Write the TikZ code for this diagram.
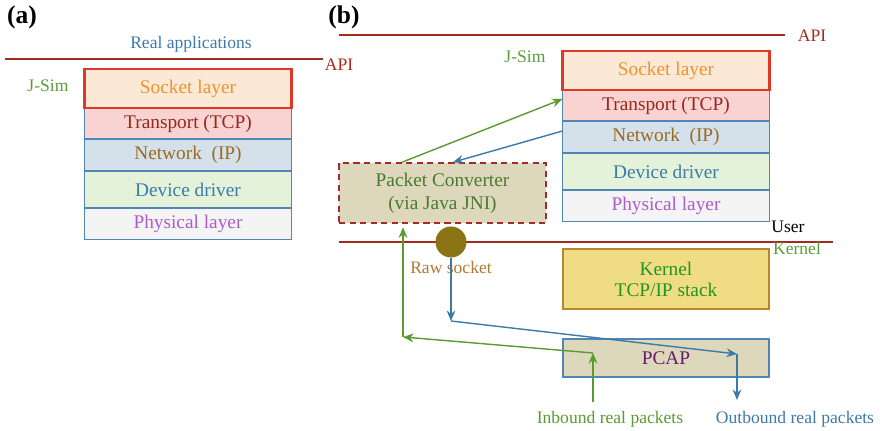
\documentclass[tikz,border=0pt]{standalone}
\usepackage{fontspec}
\setmainfont{Liberation Serif}
\usetikzlibrary{positioning, arrows.meta, calc}
\definecolor{apired}{RGB}{165, 42, 30}
\definecolor{layeredge}{RGB}{79, 134, 182}
\definecolor{socketedge}{RGB}{224, 56, 40}
\definecolor{socketfill}{RGB}{251, 233, 214}
\definecolor{sockettext}{RGB}{240, 146, 46}
\definecolor{tcpfill}{RGB}{248, 211, 210}
\definecolor{tcptext}{RGB}{150, 40, 30}
\definecolor{netfill}{RGB}{213, 225, 234}
\definecolor{nettext}{RGB}{156, 106, 31}
\definecolor{drvfill}{RGB}{227, 242, 216}
\definecolor{drvtext}{RGB}{60, 124, 168}
\definecolor{phyfill}{RGB}{244, 244, 244}
\definecolor{phytext}{RGB}{176, 92, 200}
\definecolor{convfill}{RGB}{221, 216, 187}
\definecolor{convedge}{RGB}{165, 42, 42}
\definecolor{convtext}{RGB}{74, 122, 48}
\definecolor{rawfill}{RGB}{139, 116, 20}
\definecolor{rawtext}{RGB}{176, 122, 48}
\definecolor{kernfill}{RGB}{240, 220, 130}
\definecolor{kernedge}{RGB}{184, 134, 46}
\definecolor{kerntext}{RGB}{34, 150, 34}
\definecolor{pcaptext}{RGB}{100, 30, 110}
\definecolor{simgreen}{RGB}{90, 158, 58}
\definecolor{ingreen}{RGB}{90, 154, 48}
\definecolor{outblue}{RGB}{61, 122, 168}

\begin{document}
\begin{tikzpicture}[
    x=0.02cm, y=-0.02cm,
    layer/.style={rectangle, draw=layeredge, line width=0.6pt, outer sep=0pt,
                  inner sep=0pt, minimum width=4.14cm, font=\fontsize{11}{13}\selectfont},
    socket/.style={layer, draw=socketedge, line width=1.4pt, fill=socketfill,
                   text=sockettext, minimum height=0.78cm},
    tcplayer/.style={layer, fill=tcpfill, text=tcptext, minimum height=0.62cm},
    netlayer/.style={layer, fill=netfill, text=nettext, minimum height=0.64cm},
    drvlayer/.style={layer, fill=drvfill, text=drvtext, minimum height=0.74cm},
    phylayer/.style={layer, fill=phyfill, text=phytext, minimum height=0.63cm},
    converter/.style={rectangle, draw=convedge, line width=0.9pt, dash pattern=on 3.5pt off 2.5pt,
                      fill=convfill, text=convtext, minimum width=4.14cm, minimum height=1.2cm,
                      align=center, font=\fontsize{11}{13}\selectfont},
    kernelbox/.style={rectangle, draw=kernedge, line width=0.7pt, fill=kernfill, text=kerntext,
                      minimum width=4.12cm, minimum height=1.2cm, align=center,
                      font=\fontsize{11}{12}\selectfont},
    pcapbox/.style={rectangle, draw=layeredge, line width=0.6pt, fill=convfill, text=pcaptext,
                    minimum width=4.12cm, minimum height=0.76cm, font=\fontsize{11}{13}\selectfont},
    rawsock/.style={circle, fill=rawfill, minimum size=0.62cm, inner sep=0pt},
    tag/.style={inner sep=0pt, font=\fontsize{10}{12}\selectfont},
    apiline/.style={draw=apired, line width=0.8pt},
    arrow/.style={-{Stealth[length=6pt, width=5pt, inset=2pt]}, line width=0.8pt},
    inarrow/.style={arrow, color=ingreen},
    outarrow/.style={arrow, color=outblue}
  ]
    \useasboundingbox (0,0) rectangle (880,431);

    % (a) real stack
    \node[font=\fontsize{14.5}{16}\selectfont\bfseries] (taga) at (22,17) {(a)};
    \node[tag, text=outblue] (apps) at (191,44) {Real applications};
    \draw[apiline] (5,59) -- (323,59);
    \node[tag, text=apired] (apia) at (339,65) {API};
    \node[tag, text=simgreen] (jsima) at (48,86) {J-Sim};

    \node[tcplayer] (tcpa) at (188,123.5) {Transport (TCP)};
    \node[socket, above=0pt of tcpa] (socka) {Socket layer};
    \node[netlayer, below=0pt of tcpa] (neta) {Network\ \ (IP)};
    \node[drvlayer, below=0pt of neta] (drva) {Device driver};
    \node[phylayer, below=0pt of drva] (phya) {Physical layer};

    % (b) emulation
    \node[font=\fontsize{14.5}{16}\selectfont\bfseries] (tagb) at (344,17) {(b)};
    \draw[apiline] (339,35) -- (785,35);
    \node[tag, text=apired] (apib) at (812,36) {API};
    \node[tag, text=simgreen] (jsimb) at (525,57) {J-Sim};

    \node[tcplayer] (tcpb) at (666,105.5) {Transport (TCP)};
    \node[socket, above=0pt of tcpb] (sockb) {Socket layer};
    \node[netlayer, below=0pt of tcpb] (netb) {Network\ \ (IP)};
    \node[drvlayer, below=0pt of netb] (drvb) {Device driver};
    \node[phylayer, below=0pt of drvb] (phyb) {Physical layer};

    \node[converter] (conv) at (442.5,193) {Packet Converter\\(via Java JNI)};

    \node[tag] (user) at (788,227) {User};
    \draw[apiline] (339,242) -- (833,242);
    \node[tag, text=simgreen] (kernlbl) at (797,248) {Kernel};

    \node[rawsock] (raw) at (451,242) {};
    \node[tag, text=rawtext, below=2pt of raw] (rawlbl) {Raw socket};

    \node[kernelbox] (kern) at (666,279) {Kernel\\TCP/IP stack};
    \node[pcapbox] (pcap) at (666,358) {PCAP};

    \node[tag, text=ingreen] (inlbl) at (610,419) {Inbound real packets};
    \node[tag, text=outblue] (outlbl) at (795,419) {Outbound real packets};

    % packet paths
    \coordinate (instart) at (593,402);
    \coordinate (inturn) at (593,353);
    \coordinate (inleft) at (403,337);
    \coordinate (outdown) at (451,321);
    \coordinate (outturn) at (737,354);
    \coordinate (outend) at (737,400);

    \draw[inarrow] ($(conv.north)+(-40.5,0)$) -- ($(tcpb.west)+(0,-6.5)$);
    \draw[outarrow] ($(netb.west)+(0,-6)$) -- ($(conv.north)+(10.5,0)$);

    \draw[inarrow] (instart) -- (inturn);
    \draw[inarrow] (inturn) -- (inleft);
    \draw[inarrow, shorten >=2pt] (inleft) -- (conv.south -| inleft);

    \draw[outarrow] (raw.south) -- (outdown);
    \draw[outarrow] (outdown) -- (outturn);
    \draw[outarrow] (outturn) -- (outend);
  \end{tikzpicture}
\end{document}
